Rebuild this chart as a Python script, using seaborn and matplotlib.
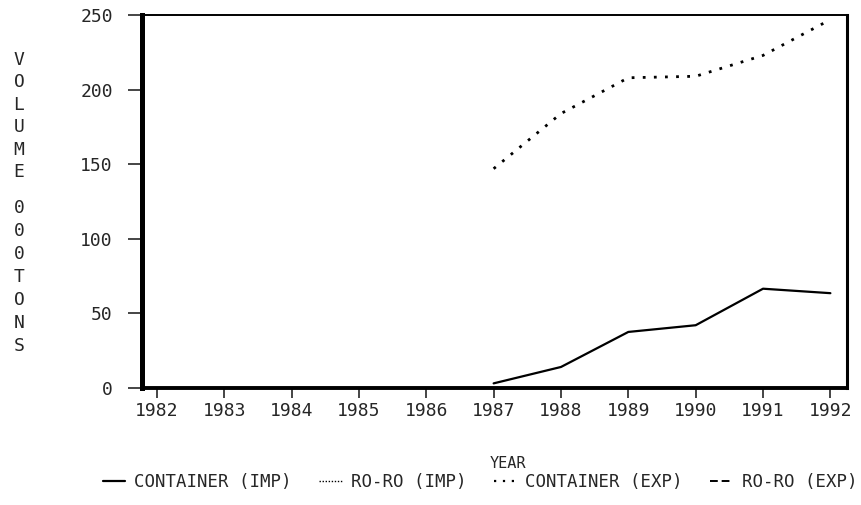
import numpy as np
import pandas as pd
import matplotlib
matplotlib.use("Agg")
import matplotlib.pyplot as plt
import seaborn as sns
from matplotlib.lines import Line2D

# values ('000 tonnes)
years = [1987, 1988, 1989, 1990, 1991, 1992]
container_imp = [3, 14, 37.5, 42, 66.5, 63.5]
container_exp = [147, 184, 208, 209, 223, 247]
roro_imp = [np.nan] * 6
roro_exp = [np.nan] * 6

series_names = ["CONTAINER (IMP)", "RO-RO (IMP)", "CONTAINER (EXP)", "RO-RO (EXP)"]
x_ticks = list(range(1982, 1993))
y_ticks = [0, 50, 100, 150, 200, 250]

df = pd.DataFrame({"year": years, "cimp": container_imp, "cexp": container_exp,
                   "rimp": roro_imp, "rexp": roro_exp})

sns.set_style("white")
plt.rcParams["font.family"] = ["DejaVu Sans Mono"]

fig = plt.figure(figsize=(8.61, 5.05), dpi=100)
ax = fig.add_axes([0.165, 0.232, 0.819, 0.738])

styles = {"cimp": "-", "rimp": (0, (1, 1.2)), "cexp": (0, (1, 3)), "rexp": (0, (4, 2))}
widths = {"cimp": 1.6, "rimp": 1.0, "cexp": 2.0, "rexp": 1.4}
for col in ["cimp", "cexp"]:
    sns.lineplot(data=df, x="year", y=col, ax=ax, color="black",
                 linestyle=styles[col], linewidth=widths[col])

ax.set_xlim(1981.78, 1992.25)
ax.set_ylim(0, 250)
ax.set_xticks(x_ticks)
ax.set_yticks(y_ticks)
ax.tick_params(axis="x", bottom=True, length=7, width=1.2, direction="out",
               labelsize=13, pad=3)
ax.tick_params(axis="y", left=True, length=10, width=1.2, direction="out",
               labelsize=13, pad=11)
ax.set_xlabel("")
ax.set_ylabel("")
for side, lw in [("left", 3.6), ("right", 2.2), ("bottom", 2.8), ("top", 1.4)]:
    ax.spines[side].set_visible(True)
    ax.spines[side].set_color("black")
    ax.spines[side].set_linewidth(lw)

# stacked axis title
fig.text(0.022, 1 - 116 / 505, "V\nO\nL\nU\nM\nE", ha="center", va="center",
         fontsize=13, linespacing=1.31)
fig.text(0.022, 1 - 277 / 505, "0\n0\n0\nT\nO\nN\nS", ha="center", va="center",
         fontsize=13, linespacing=1.35)

fig.text(508 / 861, 1 - 463 / 505, "YEAR", ha="center", va="center", fontsize=11)

handles = [Line2D([], [], color="black", linestyle=styles[k], linewidth=widths[k] if k != "cexp" else 1.6)
           for k in ["cimp", "rimp", "cexp", "rexp"]]
fig.legend(handles, series_names, loc="center", bbox_to_anchor=(480 / 861, 1 - 482 / 505),
           ncol=4, frameon=False, fontsize=12.5, handlelength=1.3, handletextpad=0.5,
           columnspacing=1.6, borderaxespad=0, borderpad=0)

fig.savefig("out.png", dpi=100)
